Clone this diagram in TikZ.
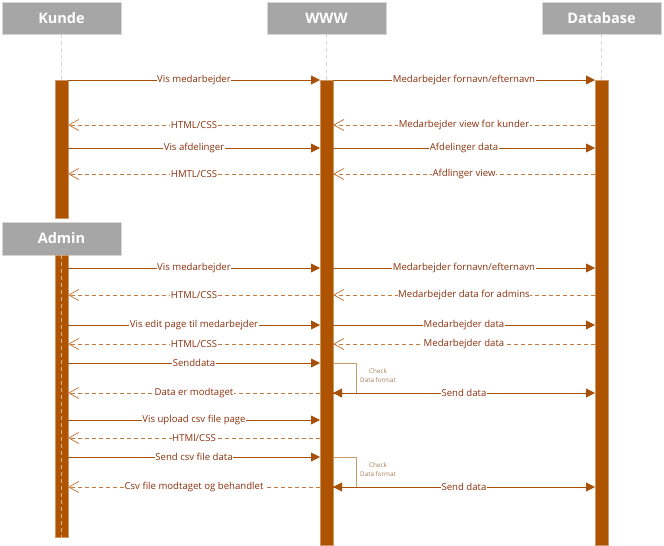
\documentclass[tikz,border=0pt]{standalone}
\usepackage{fontspec}
\setmainfont{Open Sans}
\usepackage{tikz}
\usetikzlibrary{arrows.meta}
\definecolor{headgray}{RGB}{166,166,166}
\definecolor{headline}{RGB}{214,214,214}
\definecolor{barfill}{RGB}{174,83,0}
\definecolor{callcol}{RGB}{168,80,8}
\definecolor{retcol}{RGB}{196,122,62}
\definecolor{txtcol}{RGB}{138,48,12}
\definecolor{loopcol}{RGB}{204,154,104}
\tikzset{
  head/.style={rectangle,fill=headgray,draw=headline,text=white,minimum width=119pt,minimum height=32pt,inner sep=0pt,font=\fontsize{14.5}{16}\selectfont\bfseries},
  actbar/.style={rectangle,fill=barfill,draw=barfill!60,line width=0.5pt,minimum width=13pt,inner sep=0pt,outer sep=0pt},
  life/.style={draw=headline,dashed,dash pattern=on 4pt off 3pt,line width=0.7pt},
  call/.style={draw=callcol,line width=0.9pt,-{Triangle[length=9pt,width=9pt]}},
  ret/.style={draw=retcol,line width=0.8pt,dash pattern=on 4pt off 3pt,-{Straight Barb[length=10pt,width=11pt]}},
  lbl/.style={fill=white,inner sep=0.6pt,text=txtcol,font=\fontsize{9.6}{10}\selectfont},
  checklbl/.style={text=loopcol!80!black,align=center,inner sep=0pt,font=\fontsize{6.3}{9}\selectfont},
}
\newcommand{\headnode}{\node[head]}
\newcommand{\barnode}{\node[actbar]}

\begin{document}
\begin{tikzpicture}[x=1pt,y=-1pt]
          \useasboundingbox (0,0) rectangle (664,546);
          \headnode (kunde) at (61.5,18) {Kunde}; %
          \headnode (www) at (326.5,18) {WWW}; %
          \headnode (db) at (601.5,18) {Database}; %
          \headnode[minimum height=33pt] (admin) at (61.5,238.5) {Admin};
          \barnode[minimum height=138pt] (kbar) at (61.5,149) {};
          \barnode[minimum height=465pt] (wbar) at (326.5,312.5) {};
          \barnode[minimum height=465pt] (dbar) at (601.5,312.5) {};
          \barnode[minimum height=282pt] (abar) at (61.5,396) {};
          \draw[life] (kunde) -- (kbar);
          \draw[life] (www) -- (wbar);
          \draw[life] (db) -- (dbar);
          \draw[life,draw=barfill!45!white,line width=0.5pt] (abar.north) -- (abar.south);
          % Kunde
          \draw[call] (kbar.east |- 0,80) -- node[lbl] {Vis medarbejder} (wbar.west |- 0,80);
          \draw[call] (wbar.east |- 0,80) -- node[lbl] {Medarbejder fornavn/efternavn} (dbar.west |- 0,80);
          \draw[ret] (wbar.west |- 0,125) -- node[lbl] {HTML/CSS} (kbar.east |- 0,125);
          \draw[ret] (dbar.west |- 0,125) -- node[lbl] {Medarbejder view for kunder} (wbar.east |- 0,125);
          \draw[call] (kbar.east |- 0,148) -- node[lbl] {Vis afdelinger} (wbar.west |- 0,148);
          \draw[call] (wbar.east |- 0,148) -- node[lbl] {Afdelinger data} (dbar.west |- 0,148);
          \draw[ret] (wbar.west |- 0,174) -- node[lbl] {HMTL/CSS} (kbar.east |- 0,174);
          \draw[ret] (dbar.west |- 0,174) -- node[lbl] {Afdlinger view} (wbar.east |- 0,174);
          % Admin
          \draw[call] (abar.east |- 0,268) -- node[lbl] {Vis medarbejder} (wbar.west |- 0,268);
          \draw[call] (wbar.east |- 0,268) -- node[lbl] {Medarbejder fornavn/efternavn} (dbar.west |- 0,268);
          \draw[ret] (wbar.west |- 0,295) -- node[lbl] {HTML/CSS} (abar.east |- 0,295);
          \draw[ret] (dbar.west |- 0,295) -- node[lbl] {Medarbejder data for admins} (wbar.east |- 0,295);
          \draw[call] (abar.east |- 0,325) -- node[lbl] {Vis edit page til medarbejder} (wbar.west |- 0,325);
          \draw[call] (wbar.east |- 0,325) -- node[lbl] {Medarbejder data} (dbar.west |- 0,325);
          \draw[ret] (wbar.west |- 0,344) -- node[lbl] {HTML/CSS} (abar.east |- 0,344);
          \draw[ret] (dbar.west |- 0,344) -- node[lbl] {Medarbejder data} (wbar.east |- 0,344);
          \draw[call] (abar.east |- 0,363) -- node[lbl] {Senddata} (wbar.west |- 0,363);
          \coordinate (chk1) at (356,393);
          \draw[draw=loopcol,line width=0.9pt] (wbar.east |- 0,363) -| (chk1);
          \draw[call] (chk1) -- (wbar.east |- chk1);
          \node[checklbl] (chk1txt) at (378,376) {Check\\Data format};
          \draw[ret] (wbar.west |- 0,393) -- node[lbl] {Data er modtaget} (abar.east |- 0,393);
          \draw[call] (wbar.east |- 0,393) -- node[lbl] {Send data} (dbar.west |- 0,393);
          \draw[call] (abar.east |- 0,420) -- node[lbl] {Vis upload csv file page} (wbar.west |- 0,420);
          \draw[ret] (wbar.west |- 0,438) -- node[lbl] {HTMl/CSS} (abar.east |- 0,438);
          \draw[call] (abar.east |- 0,457) -- node[lbl] {Send csv file data} (wbar.west |- 0,457);
          \coordinate (chk2) at (356,487);
          \draw[draw=loopcol,line width=0.9pt] (wbar.east |- 0,457) -| (chk2);
          \draw[call] (chk2) -- (wbar.east |- chk2);
          \node[checklbl] (chk2txt) at (378,470) {Check\\Data format};
          \draw[ret] (wbar.west |- 0,487) -- node[lbl] {Csv file modtaget og behandlet} (abar.east |- 0,487);
          \draw[call] (wbar.east |- 0,487) -- node[lbl] {Send data} (dbar.west |- 0,487);
        \end{tikzpicture}
\end{document}
